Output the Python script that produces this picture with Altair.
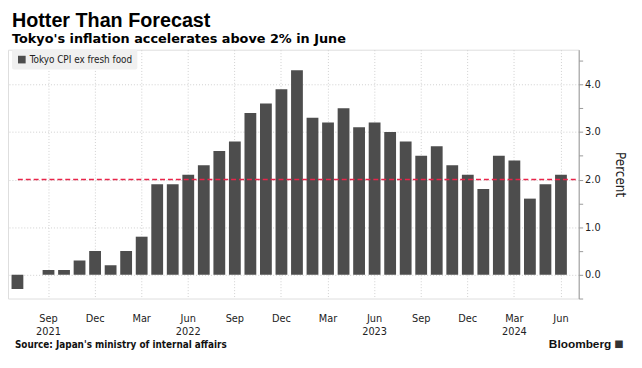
import json
import altair as alt
import pandas as pd

# ---- data ----
months = [
    "2021-07", "2021-08", "2021-09", "2021-10", "2021-11", "2021-12",
    "2022-01", "2022-02", "2022-03", "2022-04", "2022-05", "2022-06",
    "2022-07", "2022-08", "2022-09", "2022-10", "2022-11", "2022-12",
    "2023-01", "2023-02", "2023-03", "2023-04", "2023-05", "2023-06",
    "2023-07", "2023-08", "2023-09", "2023-10", "2023-11", "2023-12",
    "2024-01", "2024-02", "2024-03", "2024-04", "2024-05", "2024-06",
]
cpi_values = [
    -0.3, 0.0, 0.1, 0.1, 0.3, 0.5,
    0.2, 0.5, 0.8, 1.9, 1.9, 2.1,
    2.3, 2.6, 2.8, 3.4, 3.6, 3.9,
    4.3, 3.3, 3.2, 3.5, 3.1, 3.2,
    3.0, 2.8, 2.5, 2.7, 2.3, 2.1,
    1.8, 2.5, 2.4, 1.6, 1.9, 2.1,
]
series_name = "Tokyo CPI ex fresh food"
tick_keys = ["2021-09", "2021-12", "2022-03", "2022-06", "2022-09", "2022-12",
             "2023-03", "2023-06", "2023-09", "2023-12", "2024-03", "2024-06"]
tick_labels = ["Sep|2021", "Dec", "Mar", "Jun|2022", "Sep", "Dec",
               "Mar", "Jun|2023", "Sep", "Dec", "Mar|2024", "Jun"]
y_ticks = [-0.5, 0, 0.5, 1, 1.5, 2, 2.5, 3, 3.5, 4, 4.5]
target = [2.0]
title_text = "Hotter Than Forecast"
subtitle_text = "Tokyo's inflation accelerates above 2% in June"
source_text = "Source: Japan's ministry of internal affairs"
brand_text = "Bloomberg"

W, H = 578, 252
FONT = "DejaVu Sans Condensed, DejaVu Sans"

df = pd.DataFrame({"month": months, "value": cpi_values, "series": series_name})
ydom = [-0.5, 4.73]
yscale = alt.Scale(domain=ydom, nice=False, zero=False)

label_expr = "split(%s[indexof(%s, datum.value)], '|')" % (
    json.dumps(tick_labels), json.dumps(tick_keys))

y_axis = alt.Axis(
    orient="right", values=y_ticks, grid=True, gridColor="#cfcfcf",
    gridDash=[1, 2],
    gridOpacity={"condition": {"test": "datum.value % 1 == 0", "value": 1}, "value": 0},
    labelExpr="datum.value % 1 == 0 ? format(datum.value, '.1f') : ''",
    labelFont=FONT, labelFontSize=11, labelColor="#222",
    labelPadding=2, tickSize=4, tickColor="#999",
    domainColor="#999", titleAngle=90, titleFont=FONT,
    titleFontSize=13.5, titleFontWeight="normal",
    titleColor="#222", titlePadding=13)

bars = alt.Chart(df).mark_bar().encode(
    x=alt.X("month:O", sort=None, title=None,
            scale=alt.Scale(paddingInner=0.24, paddingOuter=0.495, align=0.23),
            axis=alt.Axis(values=tick_keys, labelExpr=label_expr, labelAngle=0,
                          bandPosition=0.5, grid=True, gridColor="#cfcfcf",
                          gridDash=[1, 2], gridWidth=1, ticks=False, domain=False,
                          labelFont=FONT, labelFontSize=11, labelColor="#222",
                          labelPadding=14, labelLineHeight=13.5)),
    y=alt.Y("value:Q", scale=yscale, title="Percent", axis=y_axis),
    color=alt.Color("series:N", scale=alt.Scale(range=["#4d4d4d"]),
                    legend=alt.Legend(orient="none", legendX=4, legendY=0, title=None,
                                      fillColor="#f0f0f0", padding=5, cornerRadius=2,
                                      symbolType="square", symbolSize=60,
                                      symbolStrokeWidth=0, labelFont=FONT,
                                      labelFontSize=10, labelColor="#222",
                                      labelOffset=3)),
)

ref = alt.Chart(pd.DataFrame({"value": target})).mark_rule(
    color="#e8254a", strokeDash=[5, 3], strokeWidth=1.5
).encode(y=alt.Y("value:Q", scale=yscale, title="Percent", axis=y_axis),
         x=alt.value(10), x2=alt.value(W))

source = alt.Chart(pd.DataFrame({"s": [source_text]})).mark_text(
    align="left", baseline="middle", font=FONT, fontSize=10, fontWeight="bold",
    color="#111"
).encode(text="s:N", x=alt.value(7), y=alt.value(299))

brand = alt.Chart(pd.DataFrame({"s": [brand_text]})).mark_text(
    align="right", baseline="middle", font="Liberation Sans", fontSize=12,
    fontWeight="bold", color="#111"
).encode(text="s:N", x=alt.value(611), y=alt.value(298))

icon = alt.Chart(pd.DataFrame({"s": ["\u25a0"]})).mark_text(
    align="left", baseline="middle", font="DejaVu Sans", fontSize=10, color="#333"
).encode(text="s:N", x=alt.value(614), y=alt.value(298))

chart = alt.layer(bars, ref, source, brand, icon).properties(
    width=W, height=H,
    title=alt.TitleParams(title_text, subtitle=subtitle_text, anchor="start",
                          frame="group", offset=4, font="Liberation Sans",
                          fontSize=20, fontWeight="bold", color="#000",
                          subtitleFont="DejaVu Sans", subtitleFontSize=13,
                          subtitleFontWeight="bold", subtitleColor="#000",
                          subtitlePadding=2, dx=4),
    autosize=alt.AutoSizeParams(type="none"),
    padding={"left": 0, "top": 40, "right": 56, "bottom": 60},
).configure_view(stroke=None).configure(background="white")

chart.save("out.html", embed_options={"renderer": "svg", "actions": False})
